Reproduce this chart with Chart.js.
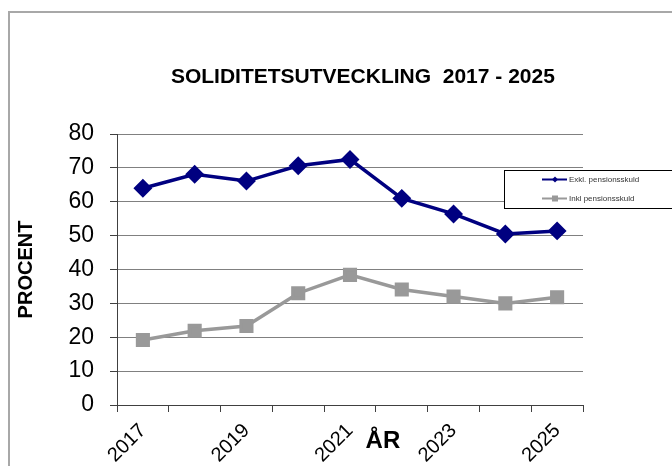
<!DOCTYPE html>
<html>
<head>
<meta charset="utf-8">
<script src="https://cdn.jsdelivr.net/npm/chart.js@4.4.1/dist/chart.umd.min.js"></script>
<style>
  html, body { margin: 0; padding: 0; background: #ffffff; }
  #wrap { position: relative; width: 672px; height: 466px; }
  canvas { display: block; }
</style>
</head>
<body>
<div id="wrap"><canvas id="c" width="672" height="466"></canvas></div>
<script>
// ---- data ----
const years = ['2017', '2018', '2019', '2020', '2021', '2022', '2023', '2024', '2025'];
const exklPension = [64.0, 68.1, 66.1, 70.6, 72.5, 61.0, 56.4, 50.5, 51.4];
const inklPension = [19.2, 21.9, 23.3, 33.0, 38.4, 34.1, 32.0, 30.0, 31.8];
const seriesNames = ['Exkl. pensionsskuld', 'Inkl pensionsskuld'];
const titleText = 'SOLIDITETSUTVECKLING  2017 - 2025';
const yTitle = 'PROCENT';
const xTitle = 'ÅR';

const NAVY = '#000080';
const GREY = '#999999';
const FONT = "'Liberation Sans', Arial, sans-serif";

const framePlugin = {
  id: 'frame',
  beforeDraw(chart) {
    const ctx = chart.ctx;
    ctx.save();
    ctx.fillStyle = '#ffffff';
    ctx.fillRect(0, 0, chart.width, chart.height);
    ctx.strokeStyle = '#a8a8a8';
    ctx.lineWidth = 2;
    ctx.strokeRect(9, 12, 800, 600);
    ctx.restore();
  }
};

const extrasPlugin = {
  id: 'extras',
  afterDraw(chart) {
    const ctx = chart.ctx;
    const ca = chart.chartArea;
    const xs = chart.scales.x;
    ctx.save();
    // chart title
    ctx.font = "bold 21px " + FONT;
    ctx.fillStyle = '#000000';
    ctx.textAlign = 'center';
    ctx.textBaseline = 'alphabetic';
    ctx.fillText(titleText, (xs.getPixelForValue(4) + xs.getPixelForValue(5)) / 2 - 13, ca.top - 51);

    // x axis title placed among tick labels
    ctx.font = "bold 24px " + FONT;
    const ax = (xs.getPixelForValue(4) + xs.getPixelForValue(5)) / 2 + 7;
    ctx.fillText(xTitle, ax, ca.bottom + 43);

    // legend box
    const bx = ca.right - 79, by = ca.top + 36, bw = 200, bh = 38;
    ctx.fillStyle = '#ffffff';
    ctx.fillRect(bx, by, bw, bh);
    ctx.strokeStyle = '#000000';
    ctx.lineWidth = 1;
    ctx.strokeRect(bx + 0.5, by + 0.5, bw, bh);
    const items = [
      { label: chart.data.datasets[0].label, color: NAVY, style: 'diamond', y: by + 9.5 },
      { label: chart.data.datasets[1].label, color: GREY, style: 'square', y: by + 28.5 }
    ];
    items.forEach(it => {
      ctx.strokeStyle = it.color;
      ctx.fillStyle = it.color;
      ctx.lineWidth = 2;
      ctx.beginPath();
      ctx.moveTo(bx + 38, it.y);
      ctx.lineTo(bx + 63, it.y);
      ctx.stroke();
      const cx = bx + 51;
      ctx.beginPath();
      if (it.style === 'diamond') {
        ctx.moveTo(cx, it.y - 3); ctx.lineTo(cx + 3, it.y); ctx.lineTo(cx, it.y + 3); ctx.lineTo(cx - 3, it.y);
        ctx.closePath(); ctx.fill();
      } else {
        ctx.fillRect(cx - 3, it.y - 3, 6, 6);
      }
      ctx.fillStyle = '#333333';
      ctx.font = "8px " + FONT;
      ctx.textAlign = 'left';
      ctx.textBaseline = 'middle';
      ctx.fillText(it.label, bx + 65, it.y);
    });
    ctx.restore();
  }
};

new Chart(document.getElementById('c'), {
  type: 'line',
  data: {
    labels: years,
    datasets: [
      {
        label: seriesNames[0],
        data: exklPension,
        borderColor: NAVY,
        backgroundColor: NAVY,
        borderWidth: 3.5,
        pointStyle: 'rectRot',
        pointRadius: 7,
        pointHoverRadius: 7,
        tension: 0
      },
      {
        label: seriesNames[1],
        data: inklPension,
        borderColor: GREY,
        backgroundColor: GREY,
        borderWidth: 3.5,
        pointStyle: 'rect',
        pointRadius: 7.5,
        pointHoverRadius: 7.5,
        tension: 0
      }
    ]
  },
  options: {
    responsive: false,
    animation: false,
    layout: { padding: { left: 0, right: 89, top: 134, bottom: 0 } },
    plugins: {
      legend: { display: false },
      tooltip: { enabled: false },
      title: { display: false }
    },
    scales: {
      x: {
        offset: true,
        grid: {
          offset: true,
          drawOnChartArea: false,
          drawTicks: true,
          tickLength: 7,
          tickColor: '#404040',
          color: '#404040'
        },
        border: { color: '#404040', width: 1 },
        ticks: {
          autoSkip: false,
          minRotation: 45,
          maxRotation: 45,
          padding: 7,
          color: '#000000',
          font: { family: FONT, size: 20 },
          callback: function (v, i) { return i % 2 === 0 ? years[i] : ''; }
        },
        afterFit(scale) { scale.height = 61; }
      },
      y: {
        min: 0,
        max: 80,
        grid: {
          color: '#808080',
          lineWidth: 1,
          tickLength: 7,
          tickColor: '#404040'
        },
        border: { color: '#404040', width: 1 },
        ticks: {
          stepSize: 10,
          padding: 16,
          color: '#000000',
          font: { family: FONT, size: 23 }
        },
        title: {
          display: true,
          text: yTitle,
          color: '#000000',
          font: { family: FONT, size: 20, weight: 'bold' },
          padding: { top: 14, bottom: 0 }
        },
        afterFit(scale) { scale.width = 117; }
      }
    }
  },
  plugins: [framePlugin, extrasPlugin]
});
</script>
</body>
</html>
